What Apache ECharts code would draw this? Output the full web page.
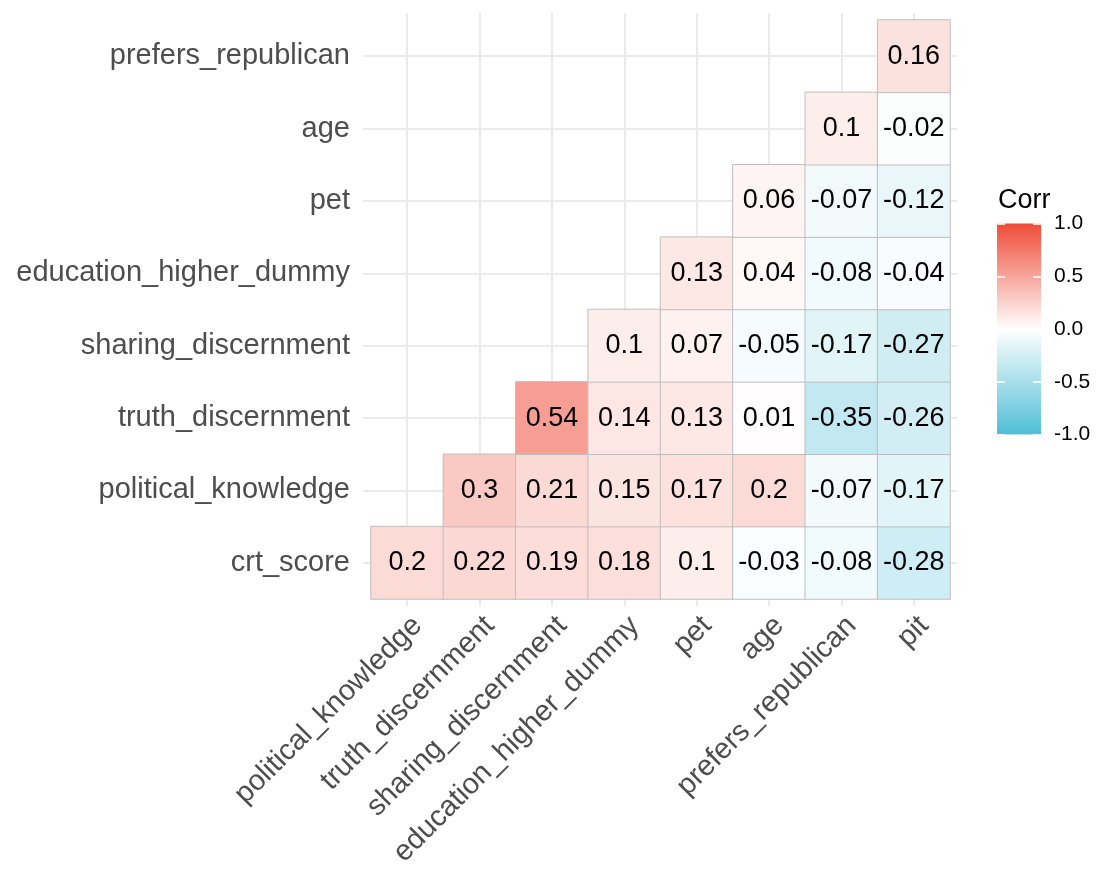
<!DOCTYPE html>
<html>
<head>
<meta charset="utf-8">
<script src="https://cdn.jsdelivr.net/npm/echarts@6/dist/echarts.min.js"></script>
<style>
  html, body { margin: 0; padding: 0; background: #ffffff; }
  #chart { width: 1097px; height: 876px; }
</style>
</head>
<body>
<div id="chart"></div>
<script>
// Variables along each axis
const xVars = ['political_knowledge', 'truth_discernment', 'sharing_discernment',
  'education_higher_dummy', 'pet', 'age', 'prefers_republican', 'pit'];
const yVars = ['crt_score', 'political_knowledge', 'truth_discernment', 'sharing_discernment',
  'education_higher_dummy', 'pet', 'age', 'prefers_republican'];

// Lower-triangle correlations, one row per y variable (null = not shown)
const rowCrtScore          = [0.2, 0.22, 0.19, 0.18, 0.1, -0.03, -0.08, -0.28];
const rowPoliticalKnow     = [null, 0.3, 0.21, 0.15, 0.17, 0.2, -0.07, -0.17];
const rowTruthDisc         = [null, null, 0.54, 0.14, 0.13, 0.01, -0.35, -0.26];
const rowSharingDisc       = [null, null, null, 0.1, 0.07, -0.05, -0.17, -0.27];
const rowEducationHigher   = [null, null, null, null, 0.13, 0.04, -0.08, -0.04];
const rowPet               = [null, null, null, null, null, 0.06, -0.07, -0.12];
const rowAge               = [null, null, null, null, null, null, 0.1, -0.02];
const rowPrefersRepublican = [null, null, null, null, null, null, null, 0.16];

const rows = [rowCrtScore, rowPoliticalKnow, rowTruthDisc, rowSharingDisc,
  rowEducationHigher, rowPet, rowAge, rowPrefersRepublican];

// Colour scale and legend ticks
const corrColors = ['#50BED6', '#FFFFFF', '#EE4C38'];
const legendTicks = [-1, -0.5, 0, 0.5, 1];

const cells = [];
rows.forEach((row, yi) => {
  row.forEach((v, xi) => {
    if (v !== null) cells.push([xi, yi, v]);
  });
});

const FONT = '"Liberation Sans", Arial, sans-serif';
const chart = echarts.init(document.getElementById('chart'), null, { renderer: 'canvas' });

chart.setOption({
  backgroundColor: '#ffffff',
  animation: false,
  title: {
    text: 'Corr',
    left: 993, top: 182,
    textStyle: { fontFamily: FONT, fontSize: 27, fontWeight: 'normal', color: '#000000' }
  },
  grid: [
    { left: 371, top: 20, width: 579, height: 579, containLabel: false },
    { left: 997, top: 223.5, width: 44, height: 211, containLabel: false }
  ],
  visualMap: {
    show: false,
    type: 'continuous',
    min: -1, max: 1,
    dimension: 2,
    seriesIndex: 0,
    inRange: { color: corrColors }
  },
  xAxis: [
    {
      gridIndex: 0,
      type: 'category',
      data: xVars,
      position: 'bottom',
      offset: 7,
      axisLine: { show: false },
      axisTick: {
        show: true, inside: true, alignWithLabel: true, interval: 0,
        length: 593, lineStyle: { color: '#EBEBEB', width: 2 }
      },
      axisLabel: {
        interval: 0, rotate: 45, margin: 5,
        align: 'right', verticalAlign: 'top',
        fontFamily: FONT, fontSize: 29, color: '#4D4D4D'
      },
      splitLine: { show: false }
    },
    {
      gridIndex: 1,
      type: 'category',
      data: ['Corr'],
      show: false
    }
  ],
  yAxis: [
    {
      gridIndex: 0,
      type: 'category',
      data: yVars,
      position: 'left',
      offset: 8,
      axisLine: { show: false },
      axisTick: {
        show: true, inside: true, alignWithLabel: true, interval: 0,
        length: 594, lineStyle: { color: '#EBEBEB', width: 2 }
      },
      axisLabel: {
        interval: 0, margin: 13,
        fontFamily: FONT, fontSize: 29, color: '#4D4D4D'
      },
      splitLine: { show: false }
    },
    {
      gridIndex: 1,
      type: 'value',
      position: 'right',
      min: legendTicks[0], max: legendTicks[legendTicks.length - 1], interval: 0.5,
      z: 10,
      axisLine: { show: false },
      axisTick: { show: true, inside: true, length: 8, lineStyle: { color: '#ffffff', width: 1.5 } },
      axisLabel: {
        margin: 13,
        formatter: v => v.toFixed(1),
        fontFamily: FONT, fontSize: 21, color: '#000000'
      },
      splitLine: { show: false }
    },
    {
      gridIndex: 1,
      type: 'value',
      position: 'left',
      min: legendTicks[0], max: legendTicks[legendTicks.length - 1], interval: 0.5,
      z: 10,
      axisLine: { show: false },
      axisTick: { show: true, inside: true, length: 8, lineStyle: { color: '#ffffff', width: 1.5 } },
      axisLabel: { show: false },
      splitLine: { show: false }
    }
  ],
  series: [
    {
      type: 'heatmap',
      xAxisIndex: 0,
      yAxisIndex: 0,
      data: cells,
      itemStyle: { borderColor: '#BEBEBE', borderWidth: 1 },
      label: {
        show: true,
        formatter: p => String(p.value[2]),
        fontFamily: FONT, fontSize: 27, color: '#000000'
      },
      emphasis: { disabled: true }
    },
    {
      // Colour bar for the Corr legend
      type: 'custom',
      xAxisIndex: 1,
      yAxisIndex: 1,
      data: [[0, legendTicks[0], legendTicks[legendTicks.length - 1]]],
      renderItem: (params, api) => {
        const lo = api.coord([api.value(0), api.value(1)]);
        const hi = api.coord([api.value(0), api.value(2)]);
        const w = api.size([1, 0])[0];
        return {
          type: 'rect',
          shape: { x: lo[0] - w / 2, y: hi[1], width: w, height: lo[1] - hi[1] },
          style: {
            fill: new echarts.graphic.LinearGradient(0, 0, 0, 1, [
              { offset: 0, color: corrColors[2] },
              { offset: 0.5, color: corrColors[1] },
              { offset: 1, color: corrColors[0] }
            ])
          }
        };
      },
      silent: true
    }
  ]
});
</script>
</body>
</html>
